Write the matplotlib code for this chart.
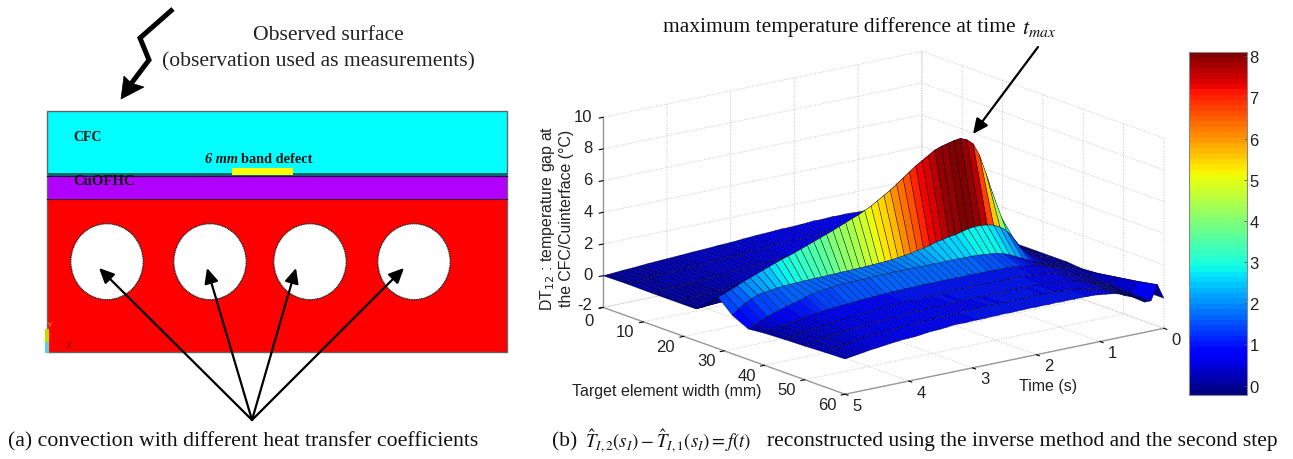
import matplotlib
matplotlib.use("Agg")
import numpy as np
from matplotlib import pyplot as plt
from matplotlib.cm import ScalarMappable
from matplotlib.colors import Normalize
from matplotlib.patches import Ellipse, Polygon, Rectangle
from mpl_toolkits.mplot3d import proj3d

plt.rcParams["font.family"] = "Liberation Serif"
plt.rcParams["mathtext.fontset"] = "stix"
plt.rcParams["axes.unicode_minus"] = False

W_PX, H_PX = 1293, 460

## Surface data: one row of DT12 per target element width, time goes 0 -> 5 s
time_s = [0.0, 0.1, 0.2, 0.3, 0.4, 0.5, 0.6, 0.7, 0.8, 0.9,
          1.0, 1.1, 1.2, 1.3, 1.4, 1.5, 1.6, 1.7, 1.8, 1.9,
          2.0, 2.1, 2.2, 2.3, 2.4, 2.5, 2.6, 2.7, 2.8, 2.9,
          3.0, 3.1, 3.2, 3.3, 3.4, 3.5, 3.6, 3.7, 3.8, 3.9,
          4.0, 4.1, 4.2, 4.3, 4.4, 4.5, 4.6, 4.7, 4.8, 4.9, 5.0]
width_mm = [0, 6, 12, 18, 23, 28.5, 32, 36, 40, 45, 50, 55, 60]

dt_w00 = [0.0, 0.1, 0.2, 0.3, 0.4, 0.5, 0.55, 0.6, 0.65, 0.7,
          0.7, 0.72, 0.74, 0.72, 0.74, 0.72, 0.7, 0.72, 0.68, 0.66,
          0.64, 0.62, 0.63, 0.6, 0.58, 0.56, 0.55, 0.52, 0.5, 0.46,
          0.44, 0.42, 0.41, 0.38, 0.36, 0.34, 0.33, 0.3, 0.28, 0.26,
          0.24, 0.22, 0.2, 0.18, 0.15, 0.12, 0.1, 0.08, 0.05, 0.02, 0.0]
dt_w06 = [0.0, 0.1, 0.25, 0.35, 0.45, 0.55, 0.6, 0.66, 0.7, 0.74,
          0.76, 0.78, 0.77, 0.8, 0.78, 0.76, 0.78, 0.74, 0.72, 0.72,
          0.68, 0.66, 0.66, 0.62, 0.62, 0.58, 0.56, 0.56, 0.52, 0.5,
          0.46, 0.46, 0.42, 0.4, 0.4, 0.36, 0.34, 0.34, 0.3, 0.28,
          0.26, 0.26, 0.22, 0.2, 0.18, 0.17, 0.12, 0.1, 0.06, 0.04, 0.02]
dt_w12 = [0.0, 0.08, 0.2, 0.3, 0.42, 0.5, 0.6, 0.64, 0.72, 0.74,
          0.8, 0.8, 0.82, 0.8, 0.82, 0.8, 0.78, 0.78, 0.74, 0.74,
          0.7, 0.7, 0.66, 0.66, 0.62, 0.6, 0.6, 0.56, 0.54, 0.5,
          0.5, 0.46, 0.44, 0.42, 0.38, 0.36, 0.34, 0.3, 0.3, 0.26,
          0.24, 0.2, 0.18, 0.16, 0.14, 0.1, 0.08, 0.08, 0.04, 0.02, 0.0]
dt_w18 = [0.0, 0.1, 0.22, 0.32, 0.44, 0.54, 0.62, 0.7, 0.74, 0.8,
          0.84, 0.86, 0.88, 0.86, 0.86, 0.84, 0.84, 0.8, 0.8, 0.76,
          0.74, 0.72, 0.7, 0.66, 0.66, 0.62, 0.6, 0.58, 0.56, 0.52,
          0.5, 0.46, 0.44, 0.42, 0.4, 0.36, 0.34, 0.32, 0.28, 0.26,
          0.24, 0.22, 0.18, 0.16, 0.14, 0.12, 0.08, 0.06, 0.04, 0.02, 0.0]
dt_w23 = [0.0, 0.1, 0.25, 0.4, 0.6, 0.8, 1.0, 1.1, 1.1, 1.05,
          1.0, 1.0, 0.98, 0.96, 0.94, 0.92, 0.9, 0.88, 0.86, 0.84,
          0.82, 0.8, 0.78, 0.76, 0.74, 0.72, 0.7, 0.66, 0.64, 0.6,
          0.58, 0.56, 0.52, 0.5, 0.46, 0.44, 0.4, 0.38, 0.34, 0.32,
          0.28, 0.26, 0.22, 0.2, 0.16, 0.14, 0.1, 0.08, 0.06, 0.02, 0.0]
dt_w28 = [0.0, 0.1, 0.3, 0.6, 1.0, 1.7, 2.9, 4.3, 5.6, 6.8,
          7.6, 7.95, 8.1, 8.05, 7.95, 7.85, 7.7, 7.45, 7.2, 6.95,
          6.65, 6.35, 6.05, 5.75, 5.5, 5.25, 5.0, 4.8, 4.6, 4.45,
          4.28, 4.12, 3.95, 3.8, 3.65, 3.5, 3.35, 3.2, 3.05, 2.92,
          2.8, 2.65, 2.5, 2.35, 2.2, 2.05, 1.9, 1.72, 1.55, 1.4, 1.25]
dt_w32 = [0.0, 0.05, 0.15, 0.3, 0.6, 1.1, 1.7, 2.2, 2.5, 2.7,
          2.8, 2.85, 2.85, 2.8, 2.7, 2.6, 2.55, 2.45, 2.4, 2.25,
          2.15, 2.1, 2.0, 1.95, 1.9, 1.85, 1.82, 1.8, 1.78, 1.76,
          1.75, 1.74, 1.72, 1.72, 1.7, 1.7, 1.68, 1.68, 1.66, 1.66,
          1.64, 1.62, 1.6, 1.55, 1.5, 1.45, 1.38, 1.2, 1.0, 0.75, 0.43]
dt_w36 = [0.0, 0.05, 0.1, 0.15, 0.25, 0.4, 0.6, 0.8, 1.0, 1.2,
          1.35, 1.45, 1.5, 1.55, 1.58, 1.6, 1.6, 1.62, 1.6, 1.62,
          1.6, 1.62, 1.6, 1.62, 1.62, 1.62, 1.6, 1.62, 1.6, 1.6,
          1.6, 1.58, 1.56, 1.56, 1.54, 1.52, 1.5, 1.46, 1.42, 1.38,
          1.3, 1.2, 1.05, 0.95, 0.85, 0.72, 0.6, 0.45, 0.3, 0.1, -0.08]
dt_w40 = [-0.1, 0.1, 0.2, 0.25, 0.35, 0.5, 0.6, 0.7, 0.78, 0.85,
          0.92, 0.96, 1.0, 0.98, 1.0, 1.02, 1.0, 1.02, 1.04, 1.0,
          1.02, 1.0, 1.02, 1.0, 1.0, 1.02, 1.0, 0.98, 1.0, 0.96,
          0.98, 0.94, 0.92, 0.9, 0.88, 0.86, 0.82, 0.8, 0.76, 0.72,
          0.7, 0.64, 0.6, 0.54, 0.48, 0.42, 0.36, 0.28, 0.2, 0.12, 0.02]
dt_w45 = [-0.1, 0.2, 0.1, 0.2, 0.3, 0.45, 0.55, 0.68, 0.75, 0.82,
          0.88, 0.92, 0.94, 0.96, 0.98, 0.96, 0.98, 1.0, 0.96, 0.98,
          1.0, 0.98, 0.96, 0.98, 0.96, 0.94, 0.96, 0.92, 0.94, 0.9,
          0.88, 0.9, 0.86, 0.84, 0.82, 0.8, 0.76, 0.74, 0.7, 0.68,
          0.64, 0.6, 0.56, 0.52, 0.46, 0.4, 0.36, 0.28, 0.22, 0.14, 0.08]
dt_w50 = [-0.1, 0.4, 0.0, 0.1, 0.25, 0.4, 0.55, 0.66, 0.74, 0.8,
          0.84, 0.9, 0.92, 0.94, 0.96, 0.94, 0.98, 0.96, 0.98, 0.96,
          0.98, 0.96, 0.94, 0.96, 0.94, 0.94, 0.92, 0.94, 0.9, 0.88,
          0.9, 0.86, 0.84, 0.86, 0.82, 0.78, 0.78, 0.74, 0.7, 0.72,
          0.68, 0.64, 0.6, 0.56, 0.54, 0.48, 0.42, 0.36, 0.28, 0.2, 0.12]
dt_w55 = [-0.1, 0.6, -0.05, 0.0, 0.2, 0.38, 0.52, 0.66, 0.72, 0.8,
          0.86, 0.92, 0.96, 0.96, 1.0, 0.98, 1.0, 1.02, 1.0, 1.0,
          1.02, 1.0, 1.0, 0.98, 1.0, 0.98, 0.96, 0.96, 0.98, 0.94,
          0.94, 0.9, 0.92, 0.9, 0.86, 0.86, 0.82, 0.8, 0.78, 0.74,
          0.72, 0.68, 0.66, 0.62, 0.58, 0.54, 0.48, 0.42, 0.34, 0.26, 0.18]
dt_w60 = [-0.1, 0.84, -0.1, -0.1, 0.2, 0.4, 0.55, 0.75, 0.85, 0.9,
          0.95, 1.0, 1.0, 1.02, 1.0, 1.02, 1.0, 1.02, 1.0, 1.02,
          1.0, 1.02, 1.0, 1.0, 0.98, 1.0, 0.98, 0.98, 0.96, 0.96,
          0.96, 0.94, 0.95, 0.95, 0.9, 0.86, 0.84, 0.82, 0.76, 0.72,
          0.7, 0.68, 0.64, 0.6, 0.55, 0.5, 0.46, 0.4, 0.34, 0.28, 0.22]

z_rows = [dt_w00, dt_w06, dt_w12, dt_w18, dt_w23, dt_w28, dt_w32,
          dt_w36, dt_w40, dt_w45, dt_w50, dt_w55, dt_w60]

time_ticks = [0, 1, 2, 3, 4, 5]
width_ticks = [0, 10, 20, 30, 40, 50, 60]
z_ticks = [-2, 0, 2, 4, 6, 8, 10]
cbar_ticks = [0, 1, 2, 3, 4, 5, 6, 7, 8]
color_min, color_max = -0.23, 8.11

## Schematic on the left, in pixels of the page
hole_x = [107, 210, 310, 414]
hole_y = 262.7
arrow_tips = [(99, 269), (207, 269), (296, 269), (404, 269)]
zigzag_x = [173, 140, 149, 124]
zigzag_y = [10, 39, 61, 94]


def px_rect(left, top, right, bottom):
    return [left / W_PX, 1 - bottom / H_PX, (right - left) / W_PX, (bottom - top) / H_PX]


fig = plt.figure(figsize=(W_PX / 100, H_PX / 100), dpi=100)

## Page layer, axes in image pixels
page = fig.add_axes([0, 0, 1, 1], zorder=5)
page.set_xlim(0, W_PX)
page.set_ylim(H_PX, 0)
page.axis("off")
page.patch.set_alpha(0)

page.add_patch(Rectangle((47, 112), 460, 61.5, fc="#00ffff", ec="none"))
page.add_patch(Rectangle((47, 173.5), 460, 3, fc="#0a6a6a", ec="none"))
page.add_patch(Rectangle((47, 176.5), 460, 23.5, fc="#b000ff", ec="none"))
page.add_patch(Rectangle((47, 200), 460, 152.7, fc="#ff0000", ec="none"))
page.add_patch(Rectangle((47, 112), 460, 240.7, fc="none", ec="#666666", lw=1))
page.plot([47, 507], [200, 200], color="#440033", lw=0.8)
page.plot([47, 507], [176.5, 176.5], color="#220044", lw=0.8)
page.add_patch(Rectangle((232, 168.5), 61, 7, fc="#ffff00", ec="none"))
for hx in hole_x:
    page.add_patch(Ellipse((hx, hole_y), 72.5, 76, fc="white", ec="#222222", lw=0.9, ls=(0, (1, 0.4))))

for tip in arrow_tips:
    page.annotate("", xy=tip, xytext=(252, 421),
                  arrowprops=dict(arrowstyle="-|>,head_length=0.9,head_width=0.42", color="black",
                                  lw=1.6, shrinkA=0, shrinkB=0))

# thick zigzag arrow above the block
page.plot(zigzag_x, zigzag_y, color="black", lw=3.6, solid_joinstyle="miter", solid_capstyle="butt")
page.add_patch(Polygon([(121, 100), (124, 77), (130, 83), (134, 85), (144, 88)], fc="black", ec="black", lw=0.5))

page.annotate("", xy=(973, 135), xytext=(1038, 48),
              arrowprops=dict(arrowstyle="-|>,head_length=0.9,head_width=0.42", color="black",
                              lw=1.6, shrinkA=0, shrinkB=0))

page.text(73, 138, "CFC", fontsize=10, fontweight="bold", va="center", color="#111111")
page.text(73, 182, "CuOFHC", fontsize=10.6, fontweight="bold", va="center", color="#111111")
page.text(238, 160, "6 mm", fontsize=10.3, fontweight="bold", fontstyle="italic", ha="right", va="center", color="#111111")
page.text(241, 160, "band defect", fontsize=10.3, fontweight="bold", ha="left", va="center", color="#111111")
page.text(69, 346, "X", fontsize=7, color="#990000", ha="center", va="center", family="Liberation Sans")
page.text(50, 326, "Y", fontsize=6, color="#c8b400", ha="center", va="center", family="Liberation Sans")
page.plot([47, 47], [332, 345], color="#b8e000", lw=3)
page.plot([47, 47], [345, 352], color="#66ccdd", lw=3)

page.text(328, 36, "Observed surface", fontsize=15.6, ha="center", va="center", color="#222222")
page.text(318, 62, "(observation used as measurements)", fontsize=15.6, ha="center", va="center", color="#222222")
page.text(8, 442, "(a) convection with different heat transfer coefficients", fontsize=15.7, va="center", color="#111111")
page.text(663, 27, "maximum temperature difference at time", fontsize=15.5, va="center", color="#111111")
page.text(1022, 29, r"$t_{max}$", fontsize=16, va="center", color="#111111")
page.text(552, 442, "(b)", fontsize=15.5, va="center", color="#111111")
page.text(585, 441, r"$\hat{T}_{I,2}(s_I)-\hat{T}_{I,1}(s_I)=f(t)$", fontsize=13.5, va="center", color="#111111")
page.text(767, 442, "reconstructed using the inverse method and the second step", fontsize=15.5, va="center", color="#111111")

page.text(556, 218, "DT$_{12}$ : temperature gap at\nthe CFC/Cuinterface (°C)", rotation=90, ha="center", va="center",
          fontsize=11.4, family="Liberation Sans", color="#222222", linespacing=1.1,
          math_fontfamily="dejavusans")
page.text(667, 392, "Target element width (mm)", ha="center", va="center", fontsize=11.5,
          family="Liberation Sans", color="#222222")
page.text(1048, 387, "Time (s)", ha="center", va="center", fontsize=11.5,
          family="Liberation Sans", color="#222222")

## 3D surface, orthographic like the original
size_px = 582
cx, cy = 883.5, 223.8
left = cx - 0.5135 * size_px
top = cy - (1 - 0.5135) * size_px
ax = fig.add_axes(px_rect(left, top, left + size_px, top + size_px), projection="3d", proj_type="ortho")
ax.patch.set_alpha(0)
ax.view_init(elev=15.8, azim=52.8)
ax.set_box_aspect((4, 4, 1.975))
ax.set_xlim(0, 5, view_margin=0)
ax.set_ylim(0, 60, view_margin=0)
ax.set_zlim(-2, 10, view_margin=0)

T, S = np.meshgrid(time_s, width_mm)
Z = np.array(z_rows)
cmap = plt.get_cmap("jet", 64)
norm = Normalize(color_min, color_max)
ax.plot_surface(T, S, Z, facecolors=cmap(norm(Z)), rstride=1, cstride=1, shade=False,
                edgecolor=(0, 0, 0, 0.65), linewidth=0.35, antialiased=True)

for axis in (ax.xaxis, ax.yaxis, ax.zaxis):
    axis.set_pane_color((1, 1, 1, 0))
    axis.pane.set_edgecolor("none")
    axis.line.set_color("#999999")
    axis.line.set_linewidth(1.0)
    axis._axinfo["grid"].update(color="#c4c4c4", linestyle=":", linewidth=0.7)
    axis._axinfo["tick"].update(inward_factor=0.15, outward_factor=0.0, linewidth={True: 0.8, False: 0.5})
ax.set_xticks(time_ticks)
ax.set_yticks(width_ticks)
ax.set_zticks(z_ticks)
ax.set_xticklabels([])
ax.set_yticklabels([])
ax.set_zticklabels([])

## Tick labels placed from the projected tick position, pad alone can't get them where MATLAB has them
fig.canvas.draw()


def tick_text(x, y, z, dx, dy, label, ha="center"):
    x2, y2, _ = proj3d.proj_transform(x, y, z, ax.get_proj())
    px, py = ax.transData.transform((x2, y2))
    fig.text((px + dx) / W_PX, (py - dy) / H_PX, label, ha=ha, va="center", fontsize=12,
             family="Liberation Sans", color="#222222")


for t in time_ticks:
    tick_text(t, 60, -2, 12, 11, str(t))
for w in width_ticks:
    if w == 0:
        tick_text(5, w, -2, -14, 13, str(w))
    else:
        tick_text(5, w, -2, -18, 10, str(w))
for z in z_ticks:
    tick_text(5, 0, z, -10.5, -3 if z == -2 else -1, str(z), "right")

## Colour bar
cax = fig.add_axes(px_rect(1188.5, 52.7, 1246.5, 396), zorder=4)
cb = fig.colorbar(ScalarMappable(norm=norm, cmap=cmap), cax=cax)
cb.set_ticks(cbar_ticks)
cb.ax.tick_params(direction="in", length=2, width=0.6, color="#555555", pad=2, labelsize=12,
                  labelcolor="#222222", labelfontfamily="Liberation Sans")
cb.outline.set_edgecolor("#888888")
cb.outline.set_linewidth(0.8)

fig.savefig("out.png", dpi=100)
